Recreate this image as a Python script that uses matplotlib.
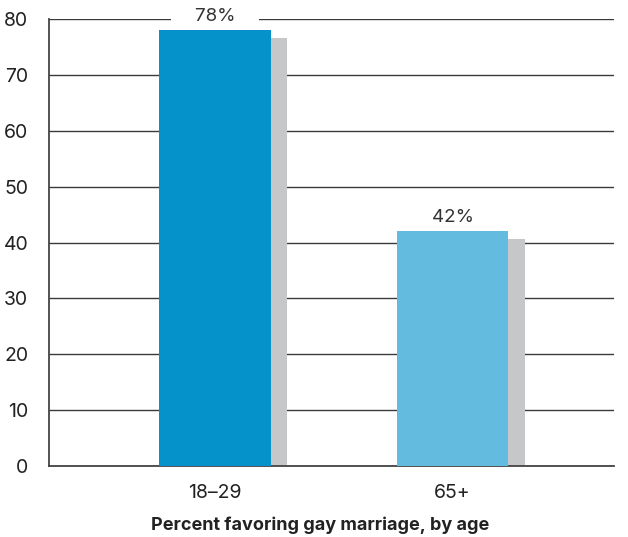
import matplotlib.pyplot as plt
import numpy as np

plt.rcParams["font.family"] = ["Inter", "DejaVu Sans"]

age_groups = ["18\u201329", "65+"]
favoring = [78, 42]
bar_colors = ["#0591C9", "#63BCE0"]

fig = plt.figure(figsize=(6.28, 5.37), dpi=100)
ax = fig.add_axes([49 / 628, 71 / 537, 565 / 628, 447 / 537])

x = np.arange(len(age_groups))
width = 0.47
shadow_dx = 0.068
shadow_drop = 1.4

# drop shadow behind each bar
ax.bar(x + shadow_dx, np.array(favoring) - shadow_drop, width=width,
       color="#C6C7C9", zorder=2)
ax.bar(x, favoring, width=width, color=bar_colors, zorder=3)

for xi, v in zip(x, favoring):
    ax.text(xi, v + 0.9, f"    {v}%    ", ha="center", va="bottom",
            fontsize=13.5, color="#333333", zorder=4,
            bbox=dict(facecolor="white", edgecolor="none", pad=2))

ax.set_xlim(-0.7, 1.68)
ax.set_ylim(0, 80)
ax.set_yticks(range(0, 81, 10))
ax.yaxis.grid(True, color="#3a3a3a", linewidth=1.0, zorder=1)
ax.set_axisbelow(True)

ax.set_xticks(x)
ax.set_xticklabels(age_groups)
ax.tick_params(axis="both", length=0, labelsize=14, colors="#222222")
ax.tick_params(axis="y", pad=15)
ax.tick_params(axis="x", pad=13)

for side in ["top", "right"]:
    ax.spines[side].set_visible(False)
ax.spines["left"].set_color("#444444")
ax.spines["left"].set_linewidth(1.3)
ax.spines["bottom"].set_color("#444444")
ax.spines["bottom"].set_linewidth(1.3)

ax.set_xlabel("Percent favoring gay marriage, by age", fontsize=13,
              fontweight="bold", color="#222222", va="center")
ax.xaxis.set_label_coords(0.48, -0.133)

fig.savefig("out.png", dpi=100)
